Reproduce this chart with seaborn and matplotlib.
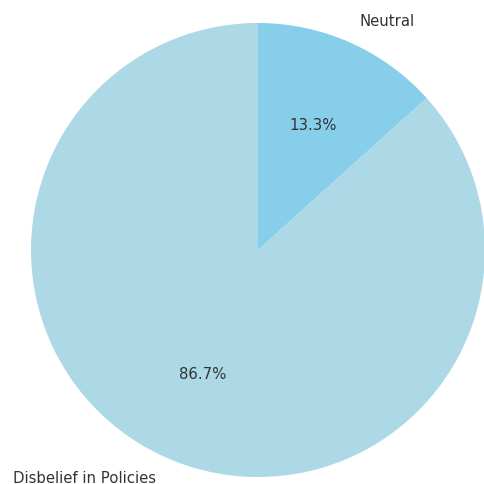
import matplotlib
matplotlib.use("Agg")
import matplotlib.pyplot as plt
import seaborn as sns

categories = ["Neutral", "Disbelief in Policies"]
values = [2, 13]
colors = ["#87CEEB", "#ADD8E6"]

sns.set_theme(style="white")
plt.rcParams['font.family'] = ['DejaVu Sans']

fig = plt.figure(figsize=(4.84, 4.84), dpi=100)
ax = fig.add_axes([0, 0, 1, 1])
wedges, texts, autotexts = ax.pie(values, labels=categories, colors=colors,
                                  autopct='%1.1f%%', startangle=90, counterclock=False,
                                  wedgeprops={'linewidth': 0, 'edgecolor': 'none'},
                                  textprops={'fontsize': 10.7, 'color': '#333333'})
ax.set_aspect('equal')
ax.set_xlim(-258/227, 226/227)
ax.set_ylim(-234/227, 250/227)
ax.axis('off')
fig.savefig("out.png", dpi=100)
